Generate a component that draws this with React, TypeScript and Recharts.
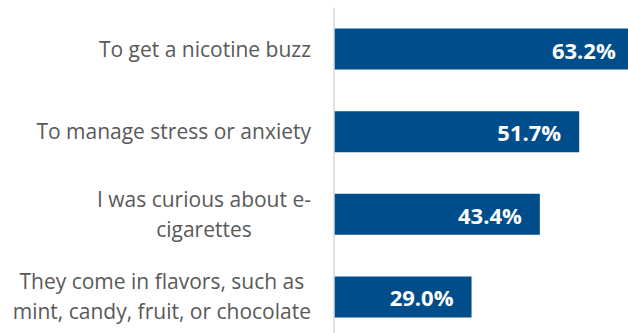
import React from "react";
import { BarChart, Bar, XAxis, YAxis, LabelList } from "recharts";

const categories = [
  "To get a nicotine buzz",
  "To manage stress or anxiety",
  "I was curious about e-\ncigarettes",
  "They come in flavors, such as\nmint, candy, fruit, or chocolate",
];
const values = [63.2, 51.7, 43.4, 29.0];

const data = categories.map((name, i) => ({ name, value: values[i] }));

const LABEL_FONT = "21px 'Open Sans'";
let ctx: CanvasRenderingContext2D | null = null;
const measure = (s: string) => {
  if (!ctx) ctx = document.createElement("canvas").getContext("2d");
  if (!ctx) return s.length * 10;
  ctx.font = LABEL_FONT;
  return ctx.measureText(s).width;
};

const CategoryTick = (props: any) => {
  const { x, y, payload } = props;
  const lines: string[] = String(payload.value).split("\n");
  const maxW = Math.max(...lines.map(measure));
  const cx = x - maxW / 2;
  const lh = 30;
  return (
    <g>
      {lines.map((l, i) => (
        <text
          key={i}
          x={cx}
          y={y + (i - (lines.length - 1) / 2) * lh + 7.8}
          textAnchor="middle"
          fontFamily="'Open Sans'"
          fontSize={21}
          fill="#595959"
        >
          {l}
        </text>
      ))}
    </g>
  );
};

const ValueLabel = (props: any) => {
  const { x, y, width, height, value } = props;
  return (
    <text
      x={x + width - 18}
      y={y + height / 2 + 9.5}
      textAnchor="end"
      fontFamily="'Open Sans'"
      fontWeight="bold"
      fontSize={22}
      fill="#ffffff"
    >
      {Number(value).toFixed(1) + "%"}
    </text>
  );
};

export default function App() {
  return (
    <div
      style={{
        position: "absolute",
        left: 0,
        top: 0,
        width: 628,
        height: 333,
        overflow: "hidden",
        background: "#ffffff",
      }}
    >
      <BarChart
        width={666}
        height={338}
        data={data}
        layout="vertical"
        margin={{ top: 7.5, right: 0, bottom: 0, left: 0 }}
      >
        <XAxis type="number" domain={[0, 70]} hide />
        <YAxis
          type="category"
          dataKey="name"
          width={334}
          tickLine={false}
          tickSize={6}
          tickMargin={17}
          axisLine={{ stroke: "#d9d9d9", strokeWidth: 1.5 }}
          tick={<CategoryTick />}
          interval={0}
        />
        <Bar dataKey="value" fill="#004D8C" barSize={41} isAnimationActive={false}>
          <LabelList dataKey="value" content={<ValueLabel />} />
        </Bar>
      </BarChart>
    </div>
  );
}
